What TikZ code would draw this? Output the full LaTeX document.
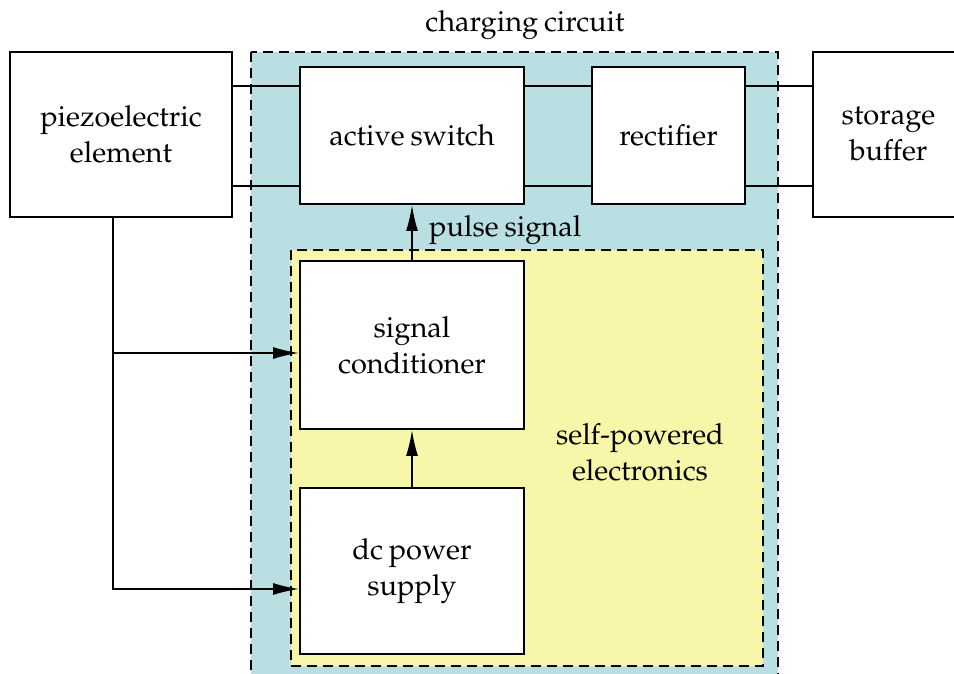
\documentclass[tikz,border=0pt]{standalone}
\usepackage[T1]{fontenc}
\usepackage{mathpazo}
\usetikzlibrary{arrows.meta}
\definecolor{cyanbg}{RGB}{185,223,227}
\definecolor{yellowbg}{RGB}{248,246,168}
\newcommand\diagfont{\fontsize{29}{36}\selectfont\spaceskip=0.2em plus 0.05em\relax}
\begin{document}
\begin{tikzpicture}[x=1pt,y=-1pt, font=\diagfont,
  blk/.style={draw, line width=1.8pt, fill=white, align=center, inner sep=0pt},
  wire/.style={line width=1.8pt},
  arr/.style={line width=1.8pt, -{Latex[length=26pt,width=12pt]}},
  region/.style={dash pattern=on 10pt off 6pt, line width=1.8pt}]
\clip (0,0) rectangle (954,673);
\fill[white] (0,0) rectangle (954,673);
\draw[region, fill=cyanbg] (251,52) rectangle (778,720);
\draw[region, fill=yellowbg] (291,250) rectangle (763,666);
\node[blk, minimum width=222pt, minimum height=165pt] (piezo) at (121,134.5) {piezoelectric\\element};
\node[blk, minimum width=147pt, minimum height=165pt] (buf) at (886.5,134.5) {\hspace*{4pt}storage\\\hspace*{4pt}buffer};
\node[blk, minimum width=224pt, minimum height=137pt] (sw) at (412,135.5) {active switch};
\node[blk, minimum width=153pt, minimum height=137pt] (rect) at (668.5,135.5) {rectifier};
\node[blk, minimum width=224pt, minimum height=168pt] (sc) at (412,345) {signal\\conditioner};
\node[blk, minimum width=224pt, minimum height=166pt] (dc) at (412,571) {dc power\\supply};
\coordinate (wtop) at (0,86);
\coordinate (wbot) at (0,186);
\coordinate (j1) at (113,353);
\coordinate (j2) at (113,589);
\draw[wire] (piezo.east |- wtop) -- (sw.west |- wtop);
\draw[wire] (piezo.east |- wbot) -- (sw.west |- wbot);
\draw[wire] (sw.east |- wtop) -- (rect.west |- wtop);
\draw[wire] (sw.east |- wbot) -- (rect.west |- wbot);
\draw[wire] (rect.east |- wtop) -- (buf.west |- wtop);
\draw[wire] (rect.east |- wbot) -- (buf.west |- wbot);
\draw[arr] (j1 |- piezo.south) -- (j2) -- (dc.west |- j2);
\draw[arr] (j1) -- (sc.west |- j1);
\draw[arr] (sc.north) -- (sw.south);
\draw[arr] (dc.north) -- (sc.south);
\node[anchor=west, inner sep=0pt] (pulse) at (429,230) {pulse signal};
\node (cc) at (525,25) {charging circuit};
\node[align=center] (spe) at (640,452) {self-powered\\electronics};
\end{tikzpicture}
\end{document}
